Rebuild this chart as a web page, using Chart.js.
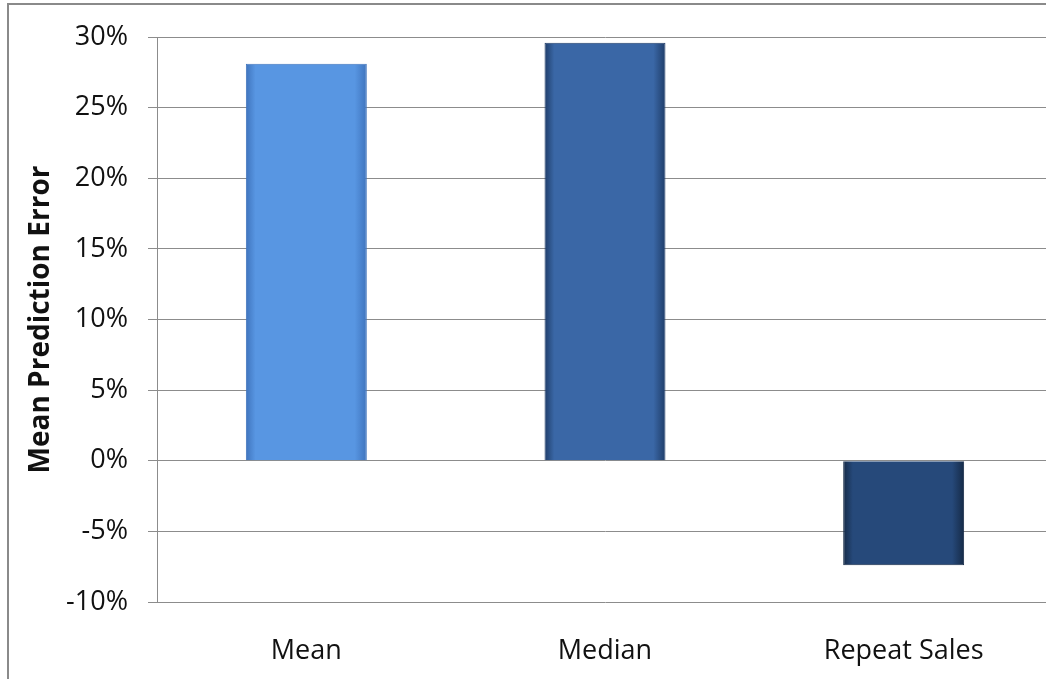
<!DOCTYPE html>
<html>
<head>
<meta charset="utf-8">
<script src="https://cdn.jsdelivr.net/npm/chart.js"></script>
<style>
  html, body { margin: 0; padding: 0; background: #fff; overflow: hidden; }
  #frame {
    position: absolute; left: 7px; top: 3px; width: 1100px; height: 700px;
    border-left: 2px solid #8a8a8a; border-top: 2px solid #8a8a8a;
  }
  #wrap { position: absolute; left: 0; top: 0; width: 1060px; height: 679px; }
</style>
</head>
<body>
<div id="frame"></div>
<div id="wrap"><canvas id="chart"></canvas></div>
<script>
// values (percent)
const categories = ['Mean', 'Median', 'Repeat Sales'];
const errorValues = [28.1, 29.6, -7.4];
const yTicks = [-10, -5, 0, 5, 10, 15, 20, 25, 30];

// base / edge colours for each bar
const barBase = ['#5896e2', '#3a67a6', '#26497a'];
const barEdge = ['#3f74bd', '#1f3d69', '#152a47'];

const BAR_FRACTION = 0.405;
const FONT = '"Open Sans", Lato, sans-serif';

function barGradient(ctx) {
    const chart = ctx.chart;
    const i = ctx.dataIndex;
    if (!chart.chartArea || i === undefined) return barBase[i || 0];
    const xs = chart.scales.x;
    const center = xs.getPixelForValue(i);
    const half = (xs.width / categories.length) * BAR_FRACTION / 2;
    const g = chart.ctx.createLinearGradient(center - half, 0, center + half, 0);
    g.addColorStop(0, barEdge[i]);
    g.addColorStop(0.08, barBase[i]);
    g.addColorStop(0.5, barBase[i]);
    g.addColorStop(0.9, barBase[i]);
    g.addColorStop(1, barEdge[i]);
    return g;
}

const ctx = document.getElementById('chart').getContext('2d');
new Chart(ctx, {
    type: 'bar',
    data: {
        labels: categories,
        datasets: [{
            data: errorValues,
            backgroundColor: barGradient,
            borderColor: barEdge,
            borderWidth: 1,
            categoryPercentage: 1,
            barPercentage: BAR_FRACTION
        }]
    },
    options: {
        responsive: true,
        maintainAspectRatio: false,
        animation: false,
        layout: { padding: { left: 0, top: 37, right: 7, bottom: 0 } },
        plugins: {
            legend: { display: false },
            tooltip: { enabled: false }
        },
        scales: {
            x: {
                grid: { display: false, drawTicks: false },
                border: { display: false },
                ticks: {
                    color: '#111',
                    padding: 33,
                    font: { family: FONT, size: 27 }
                },
                afterFit: (scale) => { scale.height = 679 - 602; }
            },
            y: {
                min: -10,
                max: 30,
                afterBuildTicks: (scale) => { scale.ticks = yTicks.map(v => ({ value: v })); },
                grid: { color: '#8c8c8c', lineWidth: 1, tickLength: 9 },
                border: { color: '#8c8c8c', width: 1 },
                ticks: {
                    color: '#111',
                    padding: 20,
                    font: { family: FONT, size: 27 },
                    callback: (v) => v + '%'
                },
                title: {
                    display: true,
                    text: 'Mean Prediction Error',
                    color: '#111',
                    padding: { top: 24, bottom: 0 },
                    font: { family: FONT, size: 28, weight: 'bold' }
                },
                afterFit: (scale) => { scale.width = 157; }
            }
        }
    }
});
</script>
</body>
</html>
